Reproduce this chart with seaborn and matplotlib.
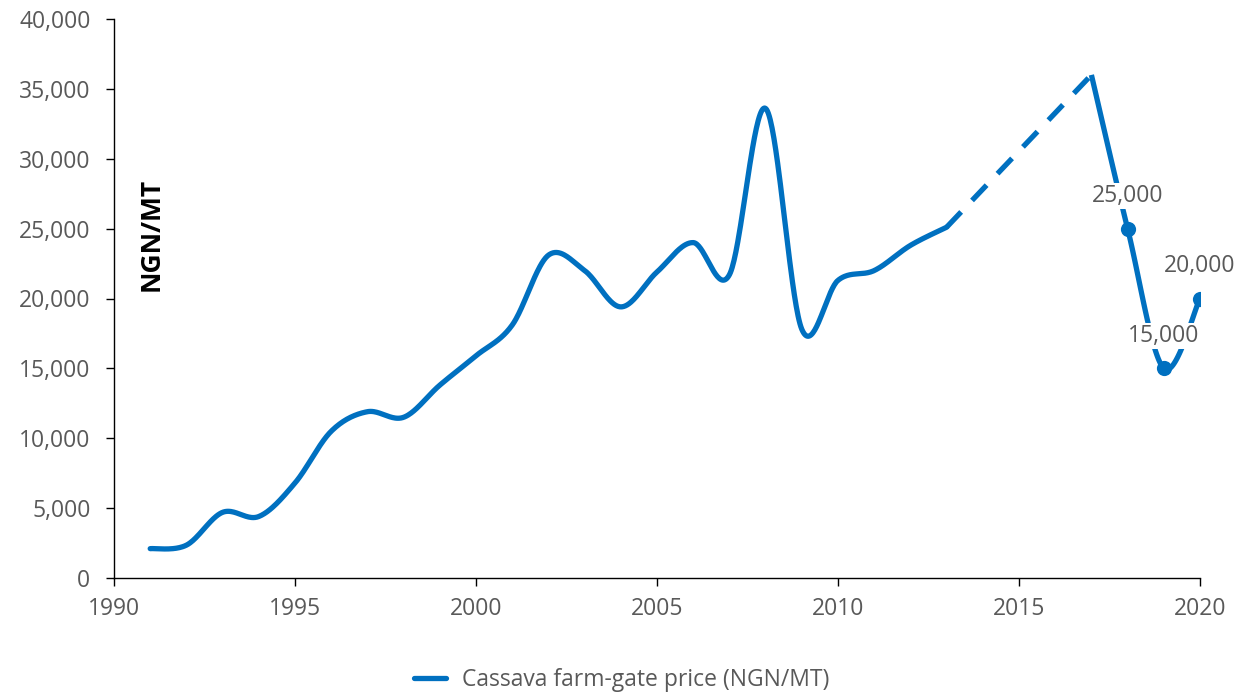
import numpy as np
import pandas as pd
import matplotlib
matplotlib.use("Agg")
import matplotlib.pyplot as plt
import seaborn as sns
from matplotlib.ticker import FuncFormatter, MultipleLocator

# Cassava farm-gate price, NGN per metric tonne
years_hist = list(range(1991, 2014))
price_hist = [2100, 2350, 4700, 4400, 6800, 10500, 11900, 11500, 13800, 15900,
              18100, 23100, 22000, 19400, 21900, 24000, 21700, 33600, 17800, 21300,
              22000, 23800, 25100]
years_recent = [2017, 2018, 2019, 2020]
price_recent = [36000, 25000, 15000, 20000]
labelled_years = [2018, 2019, 2020]
labelled_prices = [25000, 15000, 20000]

series_name = "Cassava farm-gate price (NGN/MT)"
y_title = "NGN/MT"
BLUE = "#0070C0"
GREY = "#595959"
FS = 16.5


def smooth_curve(xs, ys, n=40):
    """Piecewise cubic Bezier through every point (spreadsheet-style smoothing)."""
    P = np.column_stack([xs, ys]).astype(float)
    out = []
    t = np.linspace(0, 1, n)[:, None]
    for i in range(len(P) - 1):
        p0 = P[i - 1] if i > 0 else P[i]
        p1, p2 = P[i], P[i + 1]
        p3 = P[i + 2] if i + 2 < len(P) else P[i + 1]
        c1 = p1 + (p2 - p0) / 6.0
        c2 = p2 - (p3 - p1) / 6.0
        seg = ((1 - t) ** 3) * p1 + 3 * ((1 - t) ** 2) * t * c1 \
            + 3 * (1 - t) * (t ** 2) * c2 + (t ** 3) * p2
        out.append(seg if i == 0 else seg[1:])
    return np.vstack(out)


sns.set_theme(style="white")
plt.rcParams["font.family"] = ["Open Sans", "DejaVu Sans"]

fig = plt.figure(figsize=(12.35, 6.93), dpi=100)
ax = fig.add_axes([114 / 1235, 1 - 578 / 693, (1200 - 114) / 1235, (578 - 19) / 693])

lw = 3.8
hist = smooth_curve(years_hist, price_hist)
recent = smooth_curve(years_recent, price_recent)

sns.lineplot(x=hist[:, 0], y=hist[:, 1], ax=ax, color=BLUE, lw=lw, sort=False,
             estimator=None, label=series_name, solid_capstyle="round")
sns.lineplot(x=[years_hist[-1], years_recent[0]], y=[price_hist[-1], price_recent[0]],
             ax=ax, color=BLUE, lw=lw, sort=False, estimator=None)
ax.lines[-1].set_dashes((4, 3))
ax.lines[-1].set_dash_capstyle("butt")
sns.lineplot(x=recent[:, 0], y=recent[:, 1], ax=ax, color=BLUE, lw=lw, sort=False,
             estimator=None, solid_capstyle="butt")
sns.scatterplot(x=labelled_years, y=labelled_prices, ax=ax, color=BLUE, s=120,
                edgecolor=BLUE, linewidth=0, zorder=5)

for yr, val in zip(labelled_years, labelled_prices):
    ax.annotate(f"{val:,.0f}", xy=(yr, val), xytext=(0, 23.5), textcoords="offset points",
                ha="center", va="center", fontsize=FS, color=GREY, annotation_clip=False,
                zorder=6, bbox=dict(boxstyle="square,pad=0.05", fc="white", ec="none"))

ax.set_xlim(1990, 2020)
ax.set_ylim(0, 40000)
ax.xaxis.set_major_locator(MultipleLocator(5))
ax.yaxis.set_major_locator(MultipleLocator(5000))
ax.yaxis.set_major_formatter(FuncFormatter(lambda v, _: f"{v:,.0f}"))

for side in ("top", "right"):
    ax.spines[side].set_visible(False)
for side in ("left", "bottom"):
    ax.spines[side].set_color("black")
    ax.spines[side].set_linewidth(1.0)

ax.tick_params(axis="both", which="major", direction="out", length=6, width=1.0,
               color="black", labelcolor=GREY, labelsize=FS, bottom=True, left=True)
ax.tick_params(axis="y", pad=11)
ax.tick_params(axis="x", pad=8)

ax.set_xlabel("")
ax.set_ylabel(y_title, fontsize=19, fontweight="bold", color="black")
ax.yaxis.set_label_coords(0.034, 0.614)
ax.yaxis.label.set_verticalalignment("center")

handles, labels = ax.get_legend_handles_labels()
ax.get_legend().remove()
fig.legend(handles[:1], labels[:1], loc="center", bbox_to_anchor=(622 / 1235, 1 - 680 / 693),
           frameon=False, fontsize=FS, labelcolor=GREY, handlelength=1.4, handletextpad=0.7)

fig.savefig("out.png", dpi=100)
